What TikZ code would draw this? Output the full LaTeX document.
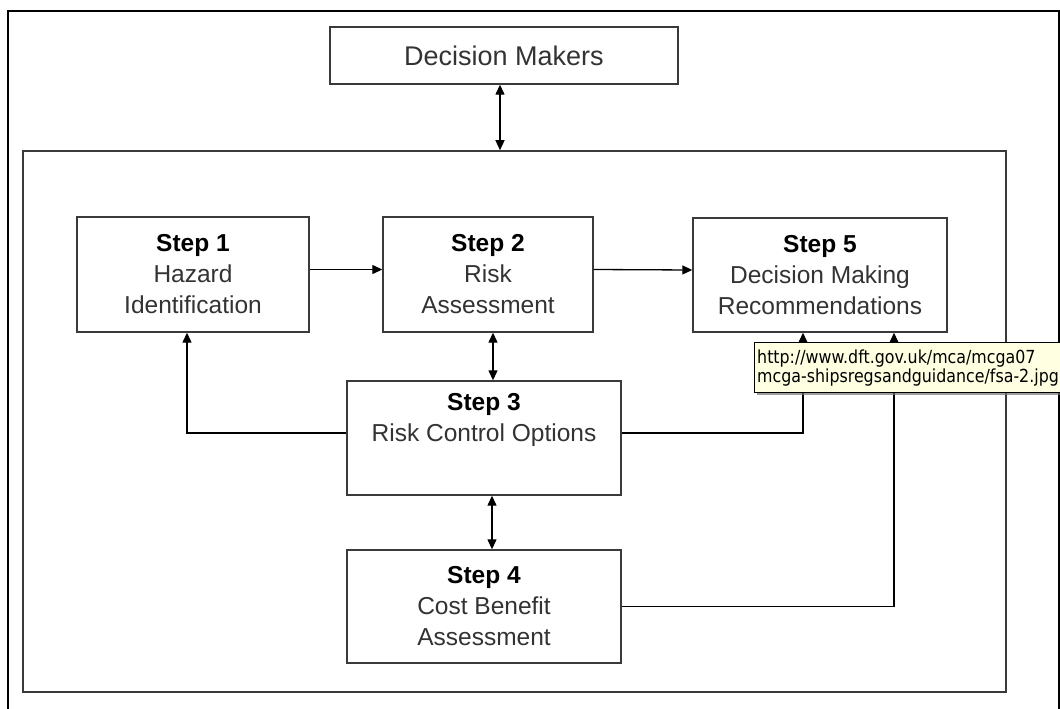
\documentclass[tikz,border=0pt]{standalone}
\usepackage{fontspec}
\setmainfont{Liberation Sans}
\newfontfamily\tipfont[FakeStretch=0.88]{DejaVu Sans}
\usetikzlibrary{arrows.meta,shadows}
\definecolor{boxline}{HTML}{3A3A3A}
\definecolor{bodytext}{HTML}{333333}
\definecolor{tipfill}{HTML}{FFFFE1}
\begin{document}
\begin{tikzpicture}[x=1pt,y=-1pt,
  box/.style={draw=boxline, line width=1.4pt, fill=white, align=center,
    inner sep=0pt, text=bodytext, font=\fontsize{24.5}{31}\selectfont},
  framebox/.style={draw=boxline, line width=1.6pt, inner sep=0pt},
  conn/.style={line width=1.3pt, draw=black},
  arr/.style={conn, -{Triangle[length=10pt,width=9pt]}},
  dbl/.style={conn, {Triangle[length=10pt,width=9pt]}-{Triangle[length=10pt,width=9pt]}},
  tipbox/.style={draw=black, line width=0.8pt, fill=tipfill, inner sep=0pt,
    drop shadow={shadow xshift=3pt, shadow yshift=-3pt, fill=black!55, opacity=0.7}},
  tiptext/.style={align=left, inner sep=0pt, text=black,
    font=\tipfont\fontsize{18}{19}\selectfont}]
\useasboundingbox (0,0) rectangle (1060,709);
\clip (0,0) rectangle (1060,709);

% page frame
\draw[line width=2.6pt, black] (8,11) rectangle (1059,740);

% the assessment process frame
\node[framebox, minimum width=983pt, minimum height=541pt] (frame) at (514.5,421.5) {};

% boxes
\node[box, minimum width=348pt, minimum height=57pt,
  font=\fontsize{27}{31}\selectfont] (dm) at (504,55.5) {Decision Makers};
\node[box, minimum width=232pt, minimum height=115pt] (s1) at (193,274.5)
  {{\color{black}\bfseries Step 1}\\Hazard\\Identification};
\node[box, minimum width=210pt, minimum height=115pt] (s2) at (488,274.5)
  {{\color{black}\bfseries Step 2}\\Risk\\Assessment};
\node[box, minimum width=254pt, minimum height=114pt] (s5) at (820,275)
  {{\color{black}\bfseries Step 5}\\Decision Making\\Recommendations};
\node[box, minimum width=274pt, minimum height=114pt] (s3) at (484,438)
  {{\color{black}\bfseries Step 3}\\Risk Control Options\\\strut};
\node[box, minimum width=274pt, minimum height=113pt] (s4) at (484,606.5)
  {{\color{black}\bfseries Step 4}\\Cost Benefit\\Assessment};

% connectors
\draw[dbl] ([xshift=-4pt]dm.south) -- ([xshift=-4pt]dm.south |- frame.north);
\draw[arr] ([yshift=5pt]s1.east) -- ([yshift=5pt]s2.west);
\draw[arr] ([yshift=5pt]s2.east) -- ([yshift=5pt]s5.west);
\draw[dbl] ([xshift=5pt]s2.south) -- ([xshift=5pt]s2.south |- s3.north);
\draw[dbl] ([xshift=8pt]s3.south) -- ([xshift=8pt]s3.south |- s4.north);
\draw[arr] ([yshift=5pt]s3.west) -| ([xshift=-6pt]s1.south);
\draw[arr] ([yshift=5pt]s3.east) -| ([xshift=-17pt]s5.south);
\draw[arr] (s4.east) -| ([xshift=74pt]s5.south);

% link tooltip
\node[tipbox, anchor=north west, minimum width=330pt, minimum height=50pt] (tip) at (754,342) {};
\node[tiptext, anchor=west] (tipt) at ([xshift=3pt,yshift=-1pt]tip.west)
  {http://www.dft.gov.uk/mca/mcga07\\mcga-shipsregsandguidance/fsa-2.jpg};
\end{tikzpicture}
\end{document}
